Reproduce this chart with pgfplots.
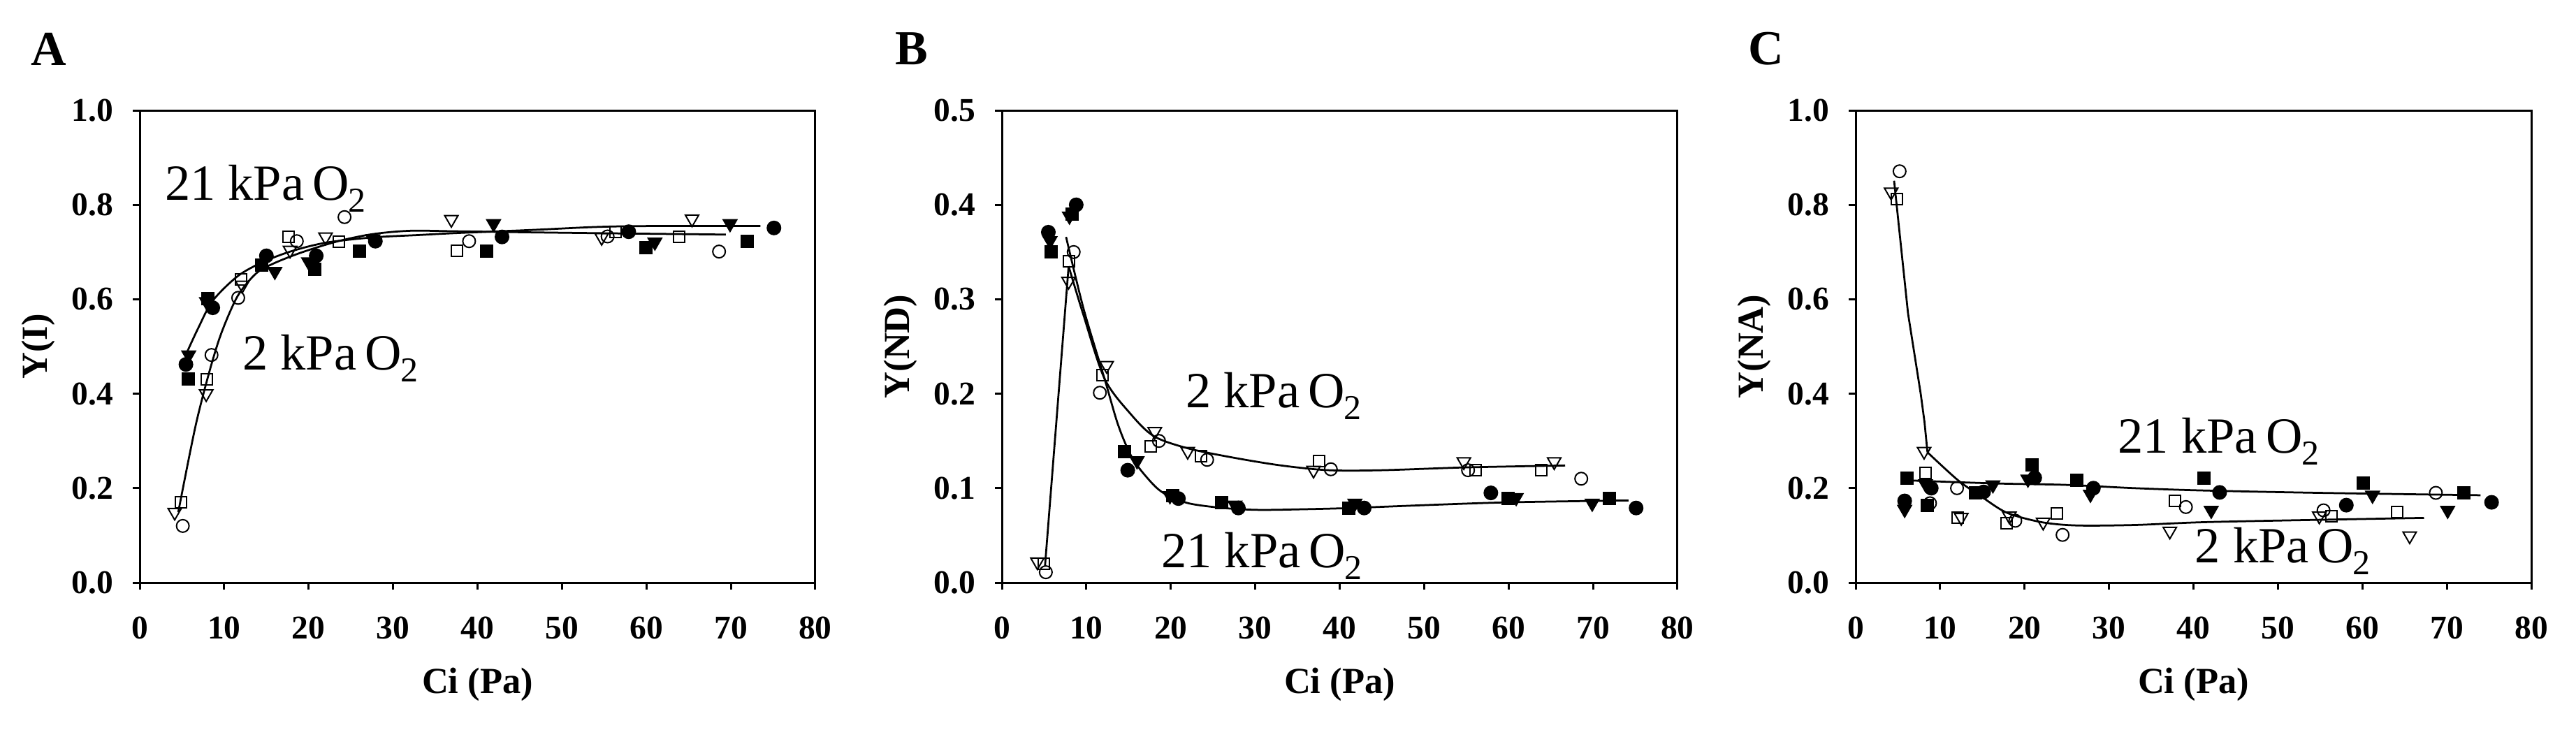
\documentclass[border=0pt]{standalone}
\usepackage{fontspec}
\setmainfont{Liberation Serif}
\usepackage{pgfplots}
\pgfplotsset{compat=1.18}
\pgfplotsset{
  myaxis/.style={
    scale only axis, width=193.4pt, height=135.2pt,
    anchor=south west,
    xmin=0, xmax=80, xtick={0,10,...,80},
    axis line style={line width=0.6pt},
    every tick/.style={line width=0.6pt, black},
    tick align=outside, major tick length=2pt,
    xtick pos=bottom, ytick pos=left,
    /pgf/number format/assume math mode=true,
    tick label style={font=\fontsize{9.5}{11}\selectfont\bfseries},
    xticklabel style={yshift=-4.3pt},
    yticklabel style={xshift=-2pt, /pgf/number format/fixed, /pgf/number format/fixed zerofill, /pgf/number format/precision=1},
    label style={font=\fontsize{10.5}{12}\selectfont\bfseries},
    xlabel style={at={(axis description cs:0.5,0)}, anchor=center, yshift=-29.2pt},
    ylabel style={at={(axis description cs:0,0.5)}, anchor=center, yshift=29pt},
    clip=false,
  },
  fc/.style={only marks, mark=*, mark size=1.9pt, mark options={draw=black, fill=black}},
  fs/.style={only marks, mark=square*, mark size=1.7pt, mark options={draw=black, fill=black}},
  ft/.style={only marks, mark=triangle*, mark size=2.2pt, mark options={rotate=180, draw=black, fill=black}},
  oc/.style={only marks, mark=o, mark size=1.8pt, mark options={draw=black, line width=0.4pt}},
  os/.style={only marks, mark=square, mark size=1.6pt, mark options={draw=black, line width=0.4pt}},
  ot/.style={only marks, mark=triangle, mark size=2.2pt, mark options={rotate=180, draw=black, line width=0.4pt}},
  fit/.style={no marks, black, line width=0.55pt},
}
\newcommand{\ann}[1]{{\fontsize{14.5}{16}\selectfont #1\,O\kern-0.3pt\raisebox{-3.4pt}{\fontsize{10}{10}\selectfont 2}}}
\begin{document}
\begin{tikzpicture}
\path[use as bounding box] (0,0) rectangle (737.4pt,209pt);
\node[font=\fontsize{14}{16}\selectfont\bfseries] at (14pt,195pt) {A};
\node[font=\fontsize{14}{16}\selectfont\bfseries] at (260.9pt,195pt) {B};
\node[font=\fontsize{14}{16}\selectfont\bfseries] at (505.5pt,195pt) {C};

% ---------------- Panel A ----------------
\begin{axis}[myaxis, at={(40pt,42.2pt)}, ymin=0, ymax=1, ytick={0,0.2,...,1.0},
  xlabel={Ci (Pa)}, ylabel={Y(I)}]
\addplot[fit, smooth] coordinates {(5.5,0.484) (6.9,0.538) (8.65,0.597) (11.6,0.649) (14.6,0.679) (18,0.702) (22.1,0.72) (27.6,0.731) (33,0.736) (37.3,0.740) (46.7,0.747) (53.9,0.753) (60,0.755) (73.5,0.755)};
\addplot[fit, smooth] coordinates {(4.56,0.149) (6.6,0.331) (8.3,0.45) (9.7,0.53) (11.6,0.607) (13.8,0.655) (16,0.677) (19.3,0.700) (23.5,0.723) (27.6,0.738) (32,0.745) (37.3,0.744) (45,0.742) (53.9,0.740) (69.4,0.737)};
\addplot[fc] coordinates {(5.47,0.462) (8.65,0.582) (15.0,0.692) (20.9,0.692) (27.9,0.723) (42.9,0.732) (57.9,0.743) (75.1,0.751)};
\addplot[fs] coordinates {(5.75,0.431) (8.1,0.602) (14.4,0.672) (20.7,0.663) (26.0,0.702) (41.1,0.702) (59.9,0.709) (71.9,0.723)};
\addplot[ft] coordinates {(5.8,0.482) (7.9,0.595) (16.0,0.659) (20.0,0.679) (27.6,0.728) (41.9,0.760) (61.0,0.721) (69.9,0.760)};
\addplot[oc] coordinates {(5.1,0.12) (8.5,0.482) (11.66,0.603) (18.6,0.723) (24.25,0.774) (39.0,0.723) (55.4,0.733) (68.6,0.701)};
\addplot[os] coordinates {(4.92,0.170) (7.96,0.431) (12.0,0.642) (17.6,0.732) (23.6,0.722) (37.6,0.702) (56.3,0.743) (63.9,0.732)};
\addplot[ot] coordinates {(4.14,0.149) (7.87,0.40) (12.15,0.63) (17.8,0.704) (22.0,0.732) (36.9,0.769) (54.7,0.731) (65.4,0.770)};
\node[anchor=base west, inner sep=0pt] at (axis cs:2.9,0.81) {\ann{21 kPa}};
\node[anchor=base west, inner sep=0pt] at (axis cs:12.1,0.45) {\ann{2 kPa}};
\end{axis}

% ---------------- Panel B ----------------
\begin{axis}[myaxis, at={(286.8pt,42.2pt)}, ymin=0, ymax=0.5, ytick={0,0.1,...,0.5},
  xlabel={Ci (Pa)}, ylabel={Y(ND)}]
\addplot[fit] coordinates {(5.1,0.017) (7.9,0.335)};
\addplot[fit, smooth] coordinates {(7.9,0.335) (9.6,0.285) (12.15,0.216) (15.2,0.179) (18,0.155) (22.1,0.142) (27.6,0.132) (33.1,0.124) (38.7,0.119) (45,0.119) (55,0.122) (66.7,0.124)};
\addplot[fit, smooth] coordinates {(7.6,0.366) (9.67,0.29) (12.15,0.216) (13.8,0.166) (15.5,0.131) (17.7,0.106) (19.3,0.094) (22.1,0.084) (26.2,0.079) (30.4,0.077) (35.9,0.0777) (41.4,0.079) (50,0.082) (60,0.085) (74.2,0.087)};
\addplot[fc] coordinates {(5.5,0.371) (8.8,0.40) (14.9,0.119) (20.9,0.089) (28.0,0.079) (42.9,0.079) (57.9,0.095) (75.1,0.079)};
\addplot[fs] coordinates {(5.8,0.35) (8.3,0.39) (14.5,0.139) (20.2,0.092) (26.0,0.085) (41.1,0.079) (59.9,0.089) (71.9,0.089)};
\addplot[ft] coordinates {(5.7,0.362) (8.0,0.388) (16.0,0.129) (19.9,0.092) (27.6,0.082) (41.8,0.084) (60.9,0.090) (69.9,0.084)};
\addplot[oc] coordinates {(5.2,0.011) (8.5,0.35) (11.6,0.201) (18.6,0.15) (24.3,0.13) (38.95,0.12) (55.2,0.119) (68.6,0.110)};
\addplot[os] coordinates {(5.0,0.02) (7.96,0.34) (11.9,0.22) (17.6,0.144) (23.6,0.134) (37.6,0.129) (56.1,0.119) (63.9,0.119)};
\addplot[ot] coordinates {(4.2,0.022) (7.9,0.319) (12.4,0.23) (18.1,0.16) (22.0,0.139) (36.9,0.119) (54.7,0.128) (65.4,0.128)};
\node[anchor=base west, inner sep=0pt] at (axis cs:21.7,0.185) {\ann{2 kPa}};
\node[anchor=base west, inner sep=0pt] at (axis cs:18.8,0.016) {\ann{21 kPa}};
\end{axis}

% ---------------- Panel C ----------------
\begin{axis}[myaxis, at={(531.2pt,42.2pt)}, ymin=0, ymax=1, ytick={0,0.2,...,1.0},
  xlabel={Ci (Pa)}, ylabel={Y(NA)}]
\addplot[fit] coordinates {(4.55,0.851) (6.2,0.57) (7.7,0.40) (8.15,0.34) (8.5,0.276)};
\addplot[fit, smooth] coordinates {(8.5,0.276) (12.1,0.217) (14.9,0.182) (17.9,0.148) (22,0.128) (26.2,0.121) (33,0.122) (41.3,0.128) (55,0.133) (67.3,0.137)};
\addplot[fit, smooth] coordinates {(5.4,0.217) (16.5,0.21) (24.8,0.207) (33,0.200) (41.3,0.195) (55,0.19) (74,0.185)};
\addplot[fc] coordinates {(5.8,0.173) (8.95,0.20) (15.15,0.192) (21.2,0.222) (28.15,0.20) (43.1,0.191) (58.1,0.164) (75.3,0.17)};
\addplot[fs] coordinates {(6.06,0.221) (8.5,0.163) (14.2,0.19) (20.9,0.249) (26.2,0.216) (41.2,0.221) (60.1,0.211) (72.0,0.19)};
\addplot[ft] coordinates {(5.8,0.155) (8.26,0.209) (16.25,0.207) (20.4,0.219) (27.8,0.187) (42.1,0.153) (61.2,0.185) (70.1,0.153)};
\addplot[oc] coordinates {(5.2,0.871) (8.8,0.168) (12.0,0.20) (18.9,0.131) (24.5,0.101) (39.1,0.16) (55.4,0.153) (68.7,0.19)};
\addplot[os] coordinates {(4.9,0.812) (8.26,0.232) (12.1,0.138) (17.85,0.126) (23.8,0.146) (37.8,0.173) (56.3,0.141) (64.1,0.150)};
\addplot[ot] coordinates {(4.2,0.827) (8.1,0.278) (12.5,0.138) (18.2,0.141) (22.2,0.128) (37.2,0.109) (54.9,0.141) (65.6,0.099)};
\node[anchor=base west, inner sep=0pt] at (axis cs:31.0,0.275) {\ann{21 kPa}};
\node[anchor=base west, inner sep=0pt] at (axis cs:40.1,0.042) {\ann{2 kPa}};
\end{axis}
\end{tikzpicture}
\end{document}
